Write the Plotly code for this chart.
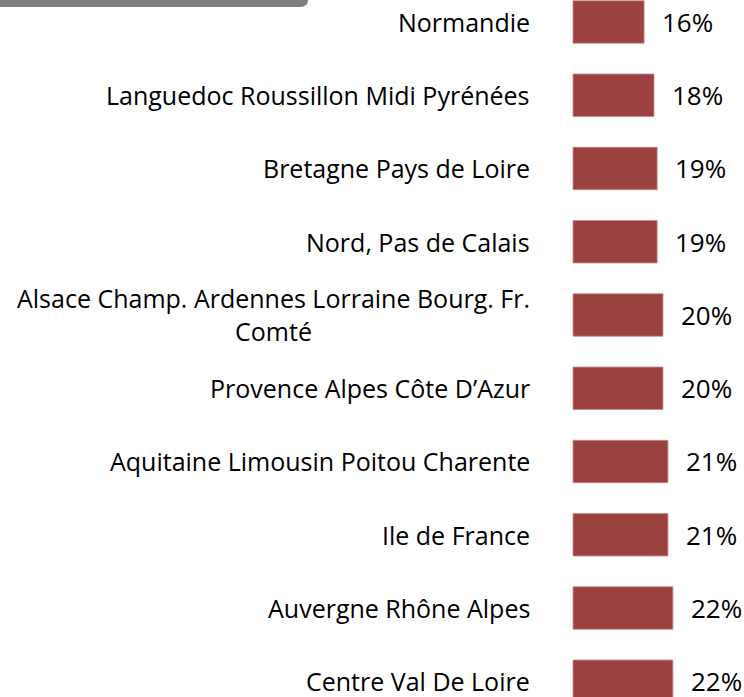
import plotly.graph_objects as go

regions = [
    "Normandie",
    "Languedoc Roussillon Midi Pyrénées",
    "Bretagne Pays de Loire",
    "Nord, Pas de Calais",
    "Alsace Champ. Ardennes Lorraine Bourg. Fr.<br>Comté",
    "Provence Alpes Côte D’Azur",
    "Aquitaine Limousin Poitou Charente",
    "Ile de France",
    "Auvergne Rhône Alpes",
    "Centre Val De Loire",
]
values = [15.8, 18.0, 18.7, 18.7, 20.0, 20.0, 21.1, 21.1, 22.2, 22.2]
value_labels = ["16%", "18%", "19%", "19%", "20%", "20%", "21%", "21%", "22%", "22%"]

positions = list(range(len(regions)))
FONT = "Open Sans"

fig = go.Figure()
fig.add_trace(go.Bar(
    x=values,
    y=positions,
    orientation="h",
    width=0.58,
    marker=dict(color="#9b4241", line=dict(color="rgba(205,140,140,0.8)", width=1)),
    hoverinfo="skip",
))

annotations = []
for p, name in zip(positions, regions):
    annotations.append(dict(
        x=0, y=p, xref="x", yref="y", text=name, showarrow=False,
        xanchor="right", yanchor="middle", align="center", xshift=-42,
        borderpad=0, font=dict(family=FONT, size=25, color="#000000"),
    ))
for p, v, lab in zip(positions, values, value_labels):
    annotations.append(dict(
        x=v, y=p, xref="x", yref="y", text=lab, showarrow=False,
        xanchor="left", yanchor="middle", xshift=17,
        borderpad=0, font=dict(family=FONT, size=26, color="#000000"),
    ))

fig.update_layout(
    width=744, height=697,
    margin=dict(l=0, r=0, t=0, b=0),
    paper_bgcolor="white", plot_bgcolor="white",
    showlegend=False,
    xaxis=dict(range=[-127.33, 38], visible=False, fixedrange=True),
    yaxis=dict(range=[9.215, -0.300], visible=False, fixedrange=True),
    annotations=annotations,
    shapes=[dict(
        type="path", xref="paper", yref="paper",
        xsizemode="pixel", ysizemode="pixel", xanchor=0, yanchor=1,
        path="M -2,5 L 308,5 L 308,0 Q 308,-7 300,-7 L -2,-7 Z",
        fillcolor="#7f7f7f", line=dict(width=0),
    )],
)

fig.write_html(
    "out.html",
    config={"displayModeBar": False},
    post_script="document.body.style.margin='0';document.body.style.overflow='hidden';",
)
